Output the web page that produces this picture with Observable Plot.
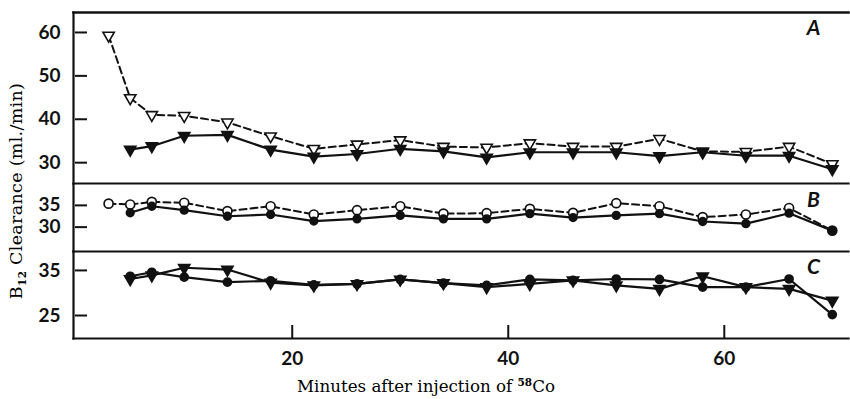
<!DOCTYPE html>
<html><head><meta charset="utf-8">
<script src="https://cdn.jsdelivr.net/npm/d3@7"></script>
<script src="https://cdn.jsdelivr.net/npm/@observablehq/plot@0.6"></script>
<style>
body{margin:0;background:#fff;}
#chart{position:relative;width:850px;height:399px;overflow:hidden;background:#fff;}
#chart .p{position:absolute;left:0;}
.lab{position:absolute;font-family:"DejaVu Serif",serif;font-size:16.7px;color:#000;white-space:nowrap;}
.lab sub,.lab sup{font-size:10.5px;font-weight:bold;}
</style></head><body>
<div id="chart"></div>
<script>
// Minutes after injection
const minutesOpen = [3, 5, 7, 10, 14, 18, 22, 26, 30, 34, 38, 42, 46, 50, 54, 58, 62, 66, 70];
const minutesFilled = [5, 7, 10, 14, 18, 22, 26, 30, 34, 38, 42, 46, 50, 54, 58, 62, 66, 70];

// Panel A (triangles)
const aOpen = [59.3, 44.9, 41.0, 40.8, 39.3, 36.1, 33.2, 34.2, 35.2, 33.7, 33.5, 34.5, 33.7, 33.7, 35.5, 32.6, 32.5, 33.7, 29.7];
const aFilled = [33.0, 33.8, 36.2, 36.4, 33.0, 31.4, 32.0, 33.2, 32.6, 31.2, 32.4, 32.4, 32.4, 31.5, 32.4, 31.6, 31.6, 28.5];
// Panel B (circles)
const bOpen = [35.4, 35.2, 35.8, 35.6, 33.7, 34.8, 32.9, 33.9, 34.8, 33.1, 33.2, 34.2, 33.3, 35.5, 34.8, 32.3, 32.9, 34.4, 29.2];
const bFilled = [33.3, 34.8, 33.9, 32.5, 32.9, 31.4, 31.9, 32.7, 31.9, 31.9, 33.1, 32.2, 32.7, 33.1, 31.3, 30.8, 33.2, 29.2];
// Panel C (filled triangles and filled circles)
const cTriangles = [33.1, 33.9, 35.6, 35.2, 32.3, 31.7, 32.0, 33.0, 32.2, 31.3, 32.0, 32.8, 31.7, 30.9, 33.7, 31.3, 30.9, 28.3];
const cCircles = [33.7, 34.6, 33.5, 32.4, 32.7, 31.8, 32.0, 33.0, 32.2, 31.7, 33.0, 32.8, 33.1, 33.0, 31.3, 31.3, 33.1, 25.2];

const ticksA = [30, 40, 50, 60];
const ticksB = [30, 35];
const ticksC = [25, 35];
const ticksX = [20, 40, 60];
const panelLetters = ["A", "B", "C"];

const xs = (t, v) => t.map((m, i) => ({m, v: v[i]}));

const W = 850, ML = 73, MR = 2;
const xDomain = [-0.25, 71.5];

function panel({top, height, mt, mb, yDomain, yTicks, letter, marks, frames, xAxis}) {
  const innerW = W - ML - MR;
  const innerH = height - mt - mb;
  const m = [
    ...frames.map(a => Plot.frame({anchor: a, stroke: "#111", strokeWidth: a === "top" ? 2.6 : 2.2})),
    Plot.tickY(yTicks, {y: d => d, stroke: "#111", strokeWidth: 2, insetLeft: 2, insetRight: innerW - 14}),
    Plot.axisY(yTicks, {tickSize: 0, tickPadding: 13, fontSize: 19, fontWeight: 700, fontFamily: "Lato, sans-serif", fill: "#111", label: null}),
    Plot.text([letter], {text: d => d, frameAnchor: "top-right", dx: -35, dy: 16, fontSize: 21, fontStyle: "italic", fontWeight: 700, fontFamily: "Lato, sans-serif", fill: "#111", textAnchor: "middle", lineAnchor: "middle"}),
    ...marks
  ];
  if (xAxis) {
    m.push(Plot.tickX(ticksX, {x: d => d, stroke: "#111", strokeWidth: 2, insetTop: innerH - 13}));
    m.push(Plot.axisX(ticksX, {tickSize: 0, tickPadding: 13, fontSize: 19, fontWeight: 700, fontFamily: "Lato, sans-serif", fill: "#111", label: null}));
  }
  const svg = Plot.plot({
    width: W, height, marginLeft: ML, marginRight: MR, marginTop: mt, marginBottom: mb,
    x: {domain: xDomain, axis: null},
    y: {domain: yDomain, axis: null},
    style: {background: "transparent", overflow: "visible"},
    marks: m
  });
  svg.classList.add("p");
  svg.style.top = top + "px";
  return svg;
}

const lineSolid = {x: "m", y: "v", stroke: "#111", strokeWidth: 2.2};
const lineDash = {x: "m", y: "v", stroke: "#111", strokeWidth: 2, strokeDasharray: "7,4"};
const triDown = (fill) => ({x: "m", y: "v", symbol: "triangle", rotate: 180, r: 4.2, fill, stroke: "#111", strokeWidth: 1.6});
const circ = (fill) => ({x: "m", y: "v", symbol: "circle", r: 4.5, fill, stroke: "#111", strokeWidth: 1.7});

const chart = document.getElementById("chart");

const A = xs(minutesOpen, aOpen), Af = xs(minutesFilled, aFilled);
const B = xs(minutesOpen, bOpen), Bf = xs(minutesFilled, bFilled);
const Ct = xs(minutesFilled, cTriangles), Cc = xs(minutesFilled, cCircles);

chart.appendChild(panel({
  top: 0, height: 184, mt: 12, mb: 1, yDomain: [25.2, 64.6], yTicks: ticksA, letter: panelLetters[0],
  frames: ["top", "left", "bottom"],
  marks: [
    Plot.line(A, lineDash), Plot.line(Af, lineSolid),
    Plot.dot(A, triDown("white")), Plot.dot(Af, triDown("#111"))
  ]
}));
chart.appendChild(panel({
  top: 184, height: 67, mt: 0, mb: 0, yDomain: [24.4, 39.8], yTicks: ticksB, letter: panelLetters[1],
  frames: ["left", "bottom"],
  marks: [
    Plot.line(B, lineDash), Plot.line(Bf, lineSolid),
    Plot.dot(B, circ("white")), Plot.dot(Bf, {...circ("#111"), r: 3.8})
  ]
}));
chart.appendChild(panel({
  top: 251, height: 148, mt: 0, mb: 61, yDomain: [19.9, 39.2], yTicks: ticksC, letter: panelLetters[2],
  frames: ["left", "bottom"], xAxis: true,
  marks: [
    Plot.line(Ct, lineSolid), Plot.line(Cc, lineSolid),
    Plot.dot(Cc, {...circ("#111"), r: 4}), Plot.dot(Ct, triDown("#111"))
  ]
}));

const yl = document.createElement("div");
yl.className = "lab";
yl.style.fontSize = "17.5px";
yl.style.letterSpacing = "0.3px";
yl.innerHTML = "B<sub>12</sub> Clearance (ml./min)";
yl.style.left = "17px"; yl.style.top = "191px";
yl.style.transform = "translate(-50%,-50%) rotate(-90deg)";
chart.appendChild(yl);

const xl = document.createElement("div");
xl.className = "lab";
xl.innerHTML = "Minutes after injection of <sup>58</sup>Co";
xl.style.left = "426px"; xl.style.top = "386px";
xl.style.transform = "translate(-50%,-50%)";
chart.appendChild(xl);
</script>
</body></html>
